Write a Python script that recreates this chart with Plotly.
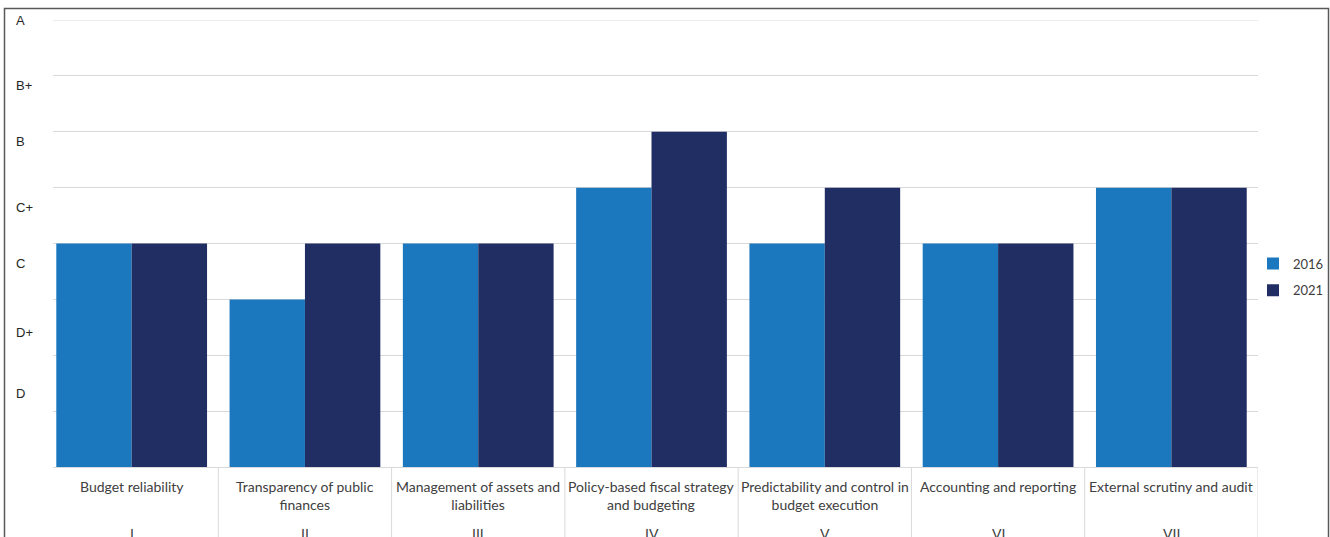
import plotly.graph_objects as go

# PEFA pillar scores, on a 0-8 score scale
pillars = [
    "Budget reliability",
    "Transparency of public<br>finances",
    "Management of assets and<br>liabilities",
    "Policy-based fiscal strategy<br>and budgeting",
    "Predictability and control in<br>budget execution",
    "Accounting and reporting",
    "External scrutiny and audit",
]
pillar_numbers = ["I", "II", "III", "IV", "V", "VI", "VII"]
scores_2016 = [4, 3, 4, 5, 4, 4, 5]
scores_2021 = [4, 4, 4, 6, 5, 4, 5]

grade_labels = ["A", "B+", "B", "C+", "C", "D+", "D"]
grade_label_y = [8.0, 6.83, 5.82, 4.65, 3.65, 2.41, 1.31]

COLOR_2016 = "#1B78BF"
COLOR_2021 = "#202E63"
GRID = "#D9D9D9"
TEXT = "#404040"
CAT_FONT = "Lato"

x_idx = list(range(len(pillars)))

fig = go.Figure()
fig.add_trace(go.Bar(x=x_idx, y=scores_2016, name="2016", marker_color=COLOR_2016,
                     marker_line_width=0, legendgroup="a"))
fig.add_trace(go.Bar(x=x_idx, y=scores_2021, name="2021", marker_color=COLOR_2021,
                     marker_line_width=0, legendgroup="b"))

W, H = 1330, 537
ml, mr, mt, mb = 53, 72, 20, 70
pw, ph = W - ml - mr, H - mt - mb


def px_to_paper_x(px):
    return (px - ml) / pw


def px_to_paper_y(py):
    return (H - mb - py) / ph


annotations = []
# grade letters on the left
for lab, yv in zip(grade_labels, grade_label_y):
    annotations.append(dict(
        x=px_to_paper_x(14), xref="paper", xanchor="left",
        y=yv, yref="y", yanchor="middle",
        text=lab, showarrow=False,
        font=dict(family="Liberation Sans", size=13, color="#262626"),
    ))
# category labels and pillar numbers
for i, (name, num) in enumerate(zip(pillars, pillar_numbers)):
    annotations.append(dict(
        x=i, xref="x", xanchor="center",
        y=px_to_paper_y(476), yref="paper", yanchor="top",
        text=name, showarrow=False, align="center",
        font=dict(family=CAT_FONT, size=14, color=TEXT),
    ))
    annotations.append(dict(
        x=i, xref="x", xanchor="center",
        y=px_to_paper_y(523), yref="paper", yanchor="top",
        text=num, showarrow=False,
        font=dict(family=CAT_FONT, size=14, color=TEXT),
    ))

shapes = []
# top gridline of the score scale
shapes.append(dict(
    type="line", xref="paper", yref="y", x0=0, x1=1, y0=8, y1=8,
    line=dict(color=GRID, width=1), layer="below",
))
# category separators under the axis
for i in range(len(pillars)):
    shapes.append(dict(
        type="line", xref="x", yref="paper",
        x0=i + 0.5, x1=i + 0.5, y0=0, y1=px_to_paper_y(545),
        line=dict(color=GRID, width=1),
    ))
# outer chart frame
shapes.append(dict(
    type="rect", xref="paper", yref="paper",
    x0=px_to_paper_x(4.5), x1=px_to_paper_x(1328.5),
    y0=px_to_paper_y(560), y1=px_to_paper_y(8.5),
    line=dict(color="#595959", width=1.5), fillcolor="rgba(0,0,0,0)",
    layer="above",
))

fig.update_layout(
    width=W, height=H,
    margin=dict(l=ml, r=mr, t=mt, b=mb, pad=0, autoexpand=False),
    paper_bgcolor="white", plot_bgcolor="white",
    barmode="group", bargap=0.13, bargroupgap=0,
    showlegend=True,
    legend=dict(
        x=px_to_paper_x(1253), xanchor="left",
        y=px_to_paper_y(277), yanchor="middle",
        font=dict(family=CAT_FONT, size=13, color=TEXT),
        traceorder="grouped", tracegroupgap=7,
        itemwidth=30, bgcolor="rgba(0,0,0,0)", borderwidth=0,
    ),
    xaxis=dict(
        range=[-0.454, 6.5], showticklabels=False, ticks="",
        showgrid=False, zeroline=False,
        showline=True, linecolor=GRID, linewidth=1,
    ),
    yaxis=dict(
        range=[0, 8], dtick=1, showticklabels=False, ticks="",
        showgrid=True, gridcolor=GRID, gridwidth=1,
        zeroline=False, showline=False,
    ),
    annotations=annotations,
    shapes=shapes,
)

fig.write_html("out.html")
